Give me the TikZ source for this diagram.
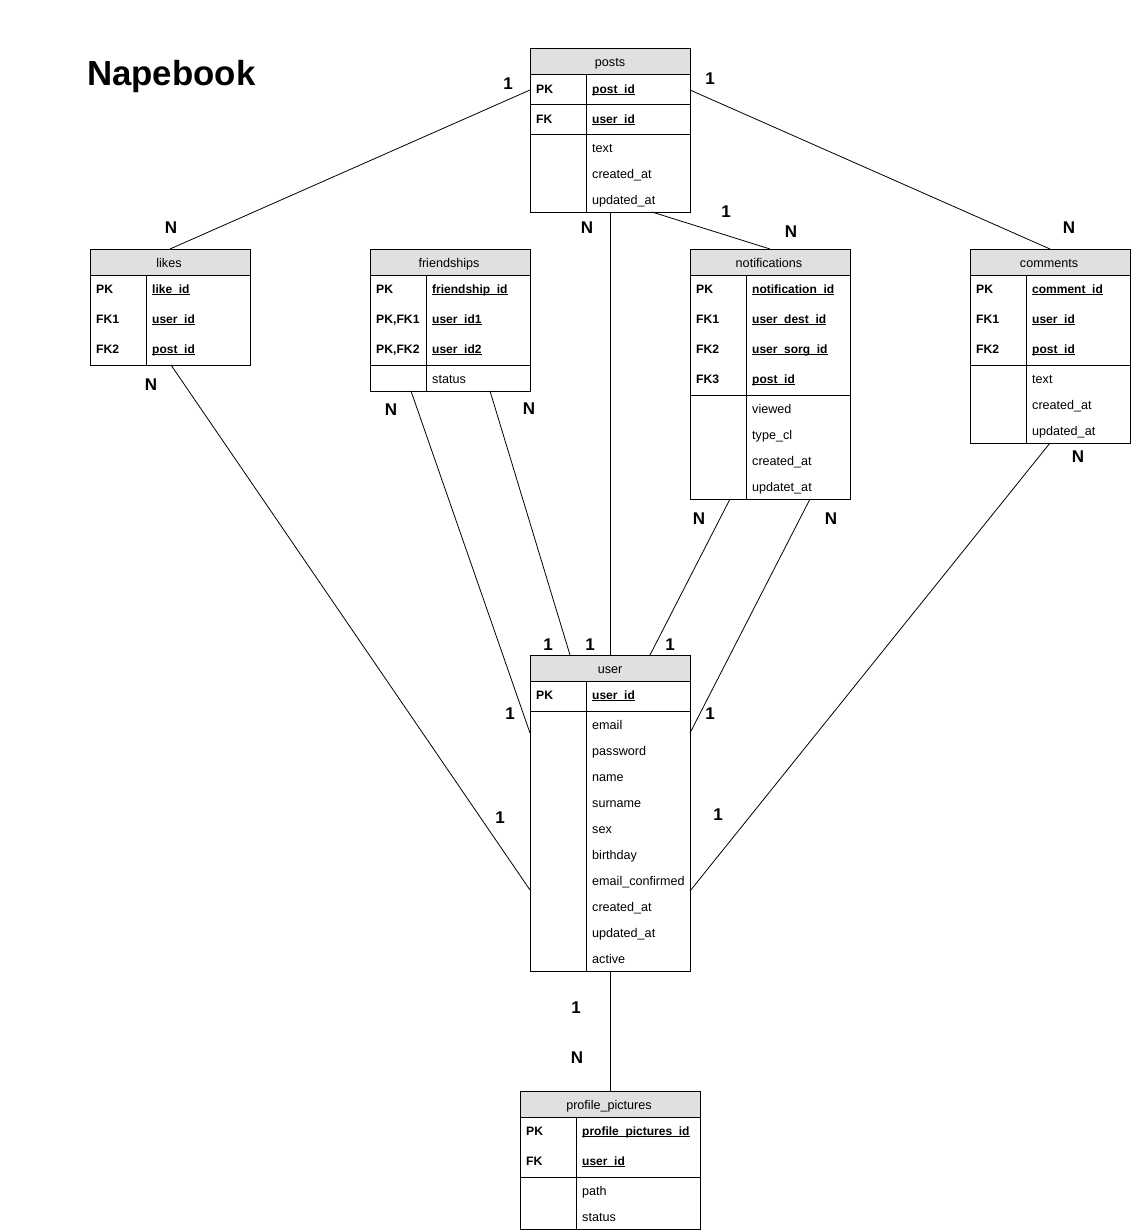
\documentclass[tikz,border=0pt]{standalone}
\usepackage{fontspec}
\setmainfont{Liberation Sans}
\newcommand{\ulk}[1]{\setbox0\hbox{\fontsize{12}{14}\selectfont\bfseries #1}\rlap{\rule[-2pt]{\wd0}{0.9pt}}\box0}
\tikzset{
  x=1pt, y=-1pt,
  frame/.style={draw, line width=1pt, anchor=north west, inner sep=0pt},
  hdrbox/.style={draw, line width=1pt, fill=headgray},
  sep/.style={line width=1pt},
  txt/.style={inner sep=0pt, text height=10pt, text depth=0pt, font=\fontsize{12.6}{14}\selectfont},
  hdr/.style={txt},
  key/.style={txt, anchor=west, font=\fontsize{12.2}{14}\selectfont\bfseries},
  fld/.style={txt, anchor=west},
  card/.style={inner sep=0pt, text height=12.2pt, text depth=0pt, font=\fontsize{17}{19}\selectfont\bfseries},
  conn/.style={line width=0.8pt},
}
\definecolor{headgray}{HTML}{E0E0E0}
\begin{document}
\begin{tikzpicture}
\useasboundingbox (0,0) rectangle (1131,1232);
\fill[white] (0,0) rectangle (1131,1232);

% title
\node[inner sep=0pt, anchor=base west, font=\fontsize{34.8}{38}\selectfont\bfseries] (title) at (87,85) {Napebook};

% ---------- posts ----------
\node[frame, minimum width=160pt, minimum height=164pt] (posts) at (530,48) {};
\draw[hdrbox] (530,48) rectangle (690,74);
\draw[sep] (530,104) -- (690,104);
\draw[sep] (530,134) -- (690,134);
\draw[sep] (586,74) -- (586,212);
\node[hdr] (posts-h) at (610,61) {posts};
\node[key] (posts-k1) at (536,88) {PK};
\node[fld] (posts-f1) at (592,88) {\ulk{post\_id}};
\node[key] (posts-k2) at (536,118) {FK};
\node[fld] (posts-f2) at (592,118) {\ulk{user\_id}};
\node[fld] (posts-a1) at (592,147) {text};
\node[fld] (posts-a2) at (592,173) {created\_at};
\node[fld] (posts-a3) at (592,199) {updated\_at};

% ---------- likes ----------
\node[frame, minimum width=160pt, minimum height=116pt] (likes) at (90,249) {};
\draw[hdrbox] (90,249) rectangle (250,275);
\draw[sep] (146,275) -- (146,365);
\node[hdr] (likes-h) at (169,262) {likes};
\node[key] (likes-k1) at (96,288) {PK};
\node[fld] (likes-f1) at (152,288) {\ulk{like\_id}};
\node[key] (likes-k2) at (96,318) {FK1};
\node[fld] (likes-f2) at (152,318) {\ulk{user\_id}};
\node[key] (likes-k3) at (96,348) {FK2};
\node[fld] (likes-f3) at (152,348) {\ulk{post\_id}};

% ---------- friendships ----------
\node[frame, minimum width=160pt, minimum height=142pt] (friend) at (370,249) {};
\draw[hdrbox] (370,249) rectangle (530,275);
\draw[sep] (370,365) -- (530,365);
\draw[sep] (426,275) -- (426,391);
\node[hdr] (friend-h) at (449,262) {friendships};
\node[key] (friend-k1) at (376,288) {PK};
\node[fld] (friend-f1) at (432,288) {\ulk{friendship\_id}};
\node[key] (friend-k2) at (376,318) {PK,FK1};
\node[fld] (friend-f2) at (432,318) {\ulk{user\_id1}};
\node[key] (friend-k3) at (376,348) {PK,FK2};
\node[fld] (friend-f3) at (432,348) {\ulk{user\_id2}};
\node[fld] (friend-a1) at (432,378) {status};

% ---------- notifications ----------
\node[frame, minimum width=160pt, minimum height=250pt] (notif) at (690,249) {};
\draw[hdrbox] (690,249) rectangle (850,275);
\draw[sep] (690,395) -- (850,395);
\draw[sep] (746,275) -- (746,499);
\node[hdr] (notif-h) at (769,262) {notifications};
\node[key] (notif-k1) at (696,288) {PK};
\node[fld] (notif-f1) at (752,288) {\ulk{notification\_id}};
\node[key] (notif-k2) at (696,318) {FK1};
\node[fld] (notif-f2) at (752,318) {\ulk{user\_dest\_id}};
\node[key] (notif-k3) at (696,348) {FK2};
\node[fld] (notif-f3) at (752,348) {\ulk{user\_sorg\_id}};
\node[key] (notif-k4) at (696,378) {FK3};
\node[fld] (notif-f4) at (752,378) {\ulk{post\_id}};
\node[fld] (notif-a1) at (752,408) {viewed};
\node[fld] (notif-a2) at (752,434) {type\_cl};
\node[fld] (notif-a3) at (752,460) {created\_at};
\node[fld] (notif-a4) at (752,486) {updatet\_at};

% ---------- comments ----------
\node[frame, minimum width=160pt, minimum height=194pt] (comm) at (970,249) {};
\draw[hdrbox] (970,249) rectangle (1130,275);
\draw[sep] (970,365) -- (1130,365);
\draw[sep] (1026,275) -- (1026,443);
\node[hdr] (comm-h) at (1049,262) {comments};
\node[key] (comm-k1) at (976,288) {PK};
\node[fld] (comm-f1) at (1032,288) {\ulk{comment\_id}};
\node[key] (comm-k2) at (976,318) {FK1};
\node[fld] (comm-f2) at (1032,318) {\ulk{user\_id}};
\node[key] (comm-k3) at (976,348) {FK2};
\node[fld] (comm-f3) at (1032,348) {\ulk{post\_id}};
\node[fld] (comm-a1) at (1032,378) {text};
\node[fld] (comm-a2) at (1032,404) {created\_at};
\node[fld] (comm-a3) at (1032,430) {updated\_at};

% ---------- user ----------
\node[frame, minimum width=160pt, minimum height=316pt] (user) at (530,655) {};
\draw[hdrbox] (530,655) rectangle (690,681);
\draw[sep] (530,711) -- (690,711);
\draw[sep] (586,681) -- (586,971);
\node[hdr] (user-h) at (610,668) {user};
\node[key] (user-k1) at (536,694) {PK};
\node[fld] (user-f1) at (592,694) {\ulk{user\_id}};
\node[fld] (user-a1) at (592,724) {email};
\node[fld] (user-a2) at (592,750) {password};
\node[fld] (user-a3) at (592,776) {name};
\node[fld] (user-a4) at (592,802) {surname};
\node[fld] (user-a5) at (592,828) {sex};
\node[fld] (user-a6) at (592,854) {birthday};
\node[fld] (user-a7) at (592,880) {email\_confirmed};
\node[fld] (user-a8) at (592,906) {created\_at};
\node[fld] (user-a9) at (592,932) {updated\_at};
\node[fld] (user-a10) at (592,958) {active};

% ---------- profile_pictures ----------
\node[frame, minimum width=180pt, minimum height=138pt] (pp) at (520,1091) {};
\draw[hdrbox] (520,1091) rectangle (700,1117);
\draw[sep] (520,1177) -- (700,1177);
\draw[sep] (576,1117) -- (576,1229);
\node[hdr] (pp-h) at (609,1104) {profile\_pictures};
\node[key] (pp-k1) at (526,1130) {PK};
\node[fld] (pp-f1) at (582,1130) {\ulk{profile\_pictures\_id}};
\node[key] (pp-k2) at (526,1160) {FK};
\node[fld] (pp-f2) at (582,1160) {\ulk{user\_id}};
\node[fld] (pp-a1) at (582,1190) {path};
\node[fld] (pp-a2) at (582,1216) {status};

% ---------- connector end points ----------
\coordinate (postsL) at (530,90);
\coordinate (postsR) at (690,90);
\coordinate (postsB) at (610,212);
\coordinate (postsB2) at (652,212);
\coordinate (likesT) at (170,249);
\coordinate (likesB) at (171,365);
\coordinate (commT) at (1050,249);
\coordinate (commB) at (1050,443);
\coordinate (friendB1) at (411,391);
\coordinate (friendB2) at (490,391);
\coordinate (notifT) at (770,249);
\coordinate (notifB1) at (730,499);
\coordinate (notifB2) at (810,499);
\coordinate (userT1) at (570,655);
\coordinate (userT2) at (610,655);
\coordinate (userT3) at (650,655);
\coordinate (userL1) at (530,733);
\coordinate (userL2) at (530,890);
\coordinate (userR1) at (690,733);
\coordinate (userR2) at (690,891);
\coordinate (userB) at (610,971);
\coordinate (ppT) at (610,1091);

% ---------- connectors ----------
\draw[conn] (postsL) -- (likesT);
\draw[conn] (postsR) -- (commT);
\draw[conn] (postsB) -- (userT2);
\draw[conn] (postsB2) -- (notifT);
\draw[conn] (likesB) -- (userL2);
\draw[conn] (friendB1) -- (userL1);
\draw[conn] (friendB2) -- (userT1);
\draw[conn] (notifB1) -- (userT3);
\draw[conn] (notifB2) -- (userR1);
\draw[conn] (commB) -- (userR2);
\draw[conn] (userB) -- (ppT);

% ---------- cardinalities ----------
\node[card] (c1) at (508,83) {1};
\node[card] (c2) at (171,227) {N};
\node[card] (c3) at (710,78) {1};
\node[card] (c4) at (1069,227) {N};
\node[card] (c5) at (587,227) {N};
\node[card] (c6) at (726,211) {1};
\node[card] (c7) at (791,231) {N};
\node[card] (c8) at (151,384) {N};
\node[card] (c9) at (391,409) {N};
\node[card] (c10) at (529,408) {N};
\node[card] (c11) at (699,518) {N};
\node[card] (c12) at (831,518) {N};
\node[card] (c13) at (1078,456) {N};
\node[card] (c14) at (548,644) {1};
\node[card] (c15) at (590,644) {1};
\node[card] (c16) at (670,644) {1};
\node[card] (c17) at (510,713) {1};
\node[card] (c18) at (710,713) {1};
\node[card] (c19) at (500,817) {1};
\node[card] (c20) at (718,814) {1};
\node[card] (c21) at (576,1007) {1};
\node[card] (c22) at (577,1057) {N};
\end{tikzpicture}
\end{document}
